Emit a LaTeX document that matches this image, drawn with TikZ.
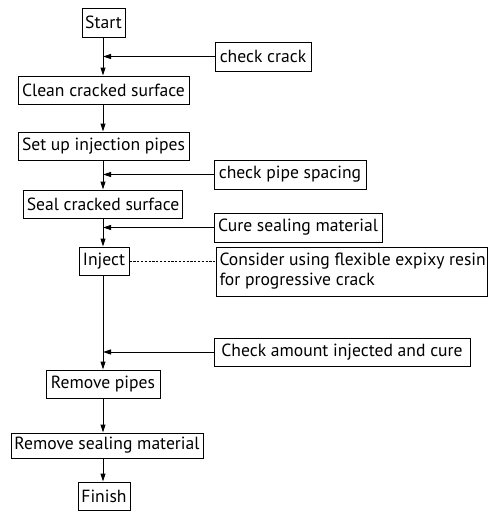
\documentclass[tikz,border=0pt]{standalone}
\usepackage{fontspec}
\setmainfont{PT Sans}
\usetikzlibrary{arrows.meta}
\begin{document}
\begin{tikzpicture}[x=1pt,y=-1pt,
  box/.style={draw,line width=1pt,inner sep=2pt,font=\fontsize{17.6}{20}\selectfont,anchor=center},
  flow/.style={line width=1pt,-{Triangle[length=8pt,width=5pt]}},
  note/.style={line width=0.9pt,dash pattern=on 2.2pt off 1.6pt}]
\useasboundingbox (0,0) rectangle (490,512);
% main column
\node[box,minimum width=43pt,minimum height=29pt] (start) at (103.5,22.5) {Start};
\node[box,minimum width=171pt,minimum height=28pt] (clean) at (103.5,90) {Clean cracked surface};
\node[box,minimum width=171pt,minimum height=28pt] (setup) at (103.5,146) {Set up injection pipes};
\node[box,minimum width=159pt,minimum height=28pt] (seal) at (103,204) {Seal cracked surface};
\node[box,minimum width=50pt,minimum height=28pt] (inject) at (104,261) {Inject};
\node[box,minimum width=114pt,minimum height=28pt] (rpipes) at (103,384) {Remove pipes};
\node[box,minimum width=192pt,minimum height=25pt] (rseal) at (107,445.5) {Remove sealing material};
\node[box,minimum width=52pt,minimum height=28pt] (finish) at (104,496) {Finish};
% side boxes
\node[box,minimum width=96pt,minimum height=29pt] (ccrack) at (263,56.5) {check crack};
\node[box,minimum width=152pt,minimum height=29pt] (cpipe) at (290,174.5) {check pipe spacing};
\node[box,minimum width=168pt,minimum height=29pt] (cure) at (298,227.5) {Cure sealing material};
\node[box,minimum height=49pt,align=left,inner xsep=3.5pt] (consider) at (351.5,271.5) {\makebox[264pt][l]{Consider using flexible expixy resin}\\for progressive crack};
\node[box,minimum width=256pt,minimum height=28pt] (camount) at (342,352) {Check amount injected and cure};
% main axis
\coordinate (ax) at (103,0);
\draw[flow] (start.south -| ax) -- (clean.north -| ax);
\draw[flow] (clean.south -| ax) -- (setup.north -| ax);
\draw[flow] (setup.south -| ax) -- (seal.north -| ax);
\draw[flow] (seal.south -| ax) -- (inject.north -| ax);
\draw[flow] (inject.south -| ax) -- (rpipes.north -| ax);
\draw[flow] (rpipes.south -| ax) -- (rseal.north -| ax);
\draw[flow] (rseal.south -| ax) -- (finish.north -| ax);
% side arrows
\draw[flow] (ccrack.west) -- (ccrack.west -| ax);
\draw[flow] (cpipe.west) -- (cpipe.west -| ax);
\draw[flow] (cure.west) -- (cure.west -| ax);
\draw[flow] (camount.west) -- (camount.west -| ax);
\draw[note] (inject.east) -- (inject.east -| consider.west);
\end{tikzpicture}
\end{document}
